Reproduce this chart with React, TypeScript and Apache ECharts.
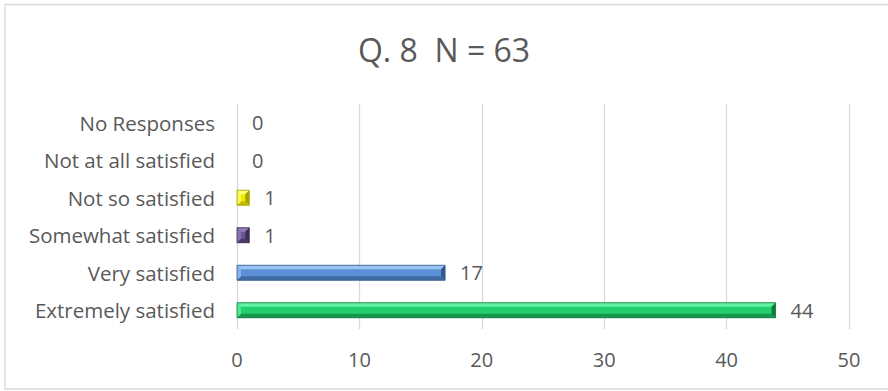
import React, { useEffect, useRef } from "react";
import * as echarts from "echarts";

// Survey responses, listed bottom-to-top as drawn on the category axis
const categories = [
  "Extremely satisfied",
  "Very satisfied",
  "Somewhat satisfied",
  "Not so satisfied",
  "Not at all satisfied",
  "No Responses",
];
const counts = [44, 17, 1, 1, 0, 0];
const titleText = "Q. 8  N = 63";
const axisMin = 0;
const axisMax = 50;
const axisStep = 10;

// Bevelled bar shading per category: face, top light, bottom shade, end cap
const shades = [
  { face: "#24cf6e", light: "#62f3a2", shade: "#179650", cap: "#107a3c" },
  { face: "#5b8fd6", light: "#9dc3f3", shade: "#3f6aa3", cap: "#33598c" },
  { face: "#6a5590", light: "#9380b6", shade: "#4b3b6a", cap: "#3c2f57" },
  { face: "#f0ec00", light: "#ffff80", shade: "#c2bd00", cap: "#a5a100" },
  { face: "#999999", light: "#cccccc", shade: "#777777", cap: "#666666" },
  { face: "#999999", light: "#cccccc", shade: "#777777", cap: "#666666" },
];

const FONT = "'Open Sans', sans-serif";
const TEXT = "#595959";
const BAR_H = 15;

export default function App() {
  const ref = useRef<HTMLDivElement>(null);

  useEffect(() => {
    if (!ref.current) return;
    const chart = echarts.init(ref.current, undefined, { renderer: "svg" });

    const renderBevel = (params: any, api: any) => {
      const v = api.value(0);
      const idx = api.value(1);
      const s = api.coord([0, idx]);
      const e = api.coord([v, idx]);
      const x0 = s[0];
      const x1 = e[0];
      if (x1 - x0 < 0.5) return null;
      const yt = s[1] - BAR_H / 2;
      const yb = yt + BAR_H;
      const b = Math.min(4, (x1 - x0) / 2, BAR_H / 2);
      const c = shades[params.dataIndex];
      return {
        type: "group",
        children: [
          {
            type: "polygon",
            shape: { points: [[x0, yt], [x1, yt], [x1 - b, yt + b], [x0 + b, yt + b]] },
            style: { fill: c.light },
          },
          {
            type: "polygon",
            shape: { points: [[x0, yb], [x1, yb], [x1 - b, yb - b], [x0 + b, yb - b]] },
            style: { fill: c.shade },
          },
          {
            type: "polygon",
            shape: { points: [[x1, yt], [x1, yb], [x1 - b, yb - b], [x1 - b, yt + b]] },
            style: { fill: c.cap },
          },
          {
            type: "polygon",
            shape: { points: [[x0, yt], [x0, yb], [x0 + b, yb - b], [x0 + b, yt + b]] },
            style: { fill: c.light, opacity: 0.7 },
          },
          {
            type: "rect",
            shape: { x: x0, y: yt, width: x1 - x0, height: BAR_H },
            style: { fill: "none", stroke: c.cap, lineWidth: 0.8 },
          },
        ],
      };
    };

    chart.setOption({
      animation: false,
      backgroundColor: "#ffffff",
      title: {
        text: titleText,
        left: "center",
        top: 28,
        textStyle: { fontFamily: FONT, fontSize: 32, fontWeight: "normal", color: TEXT },
      },
      graphic: [
        {
          type: "rect",
          shape: { x: 5, y: 4.5, width: 900, height: 384.5 },
          style: { fill: "none", stroke: "#d9d9d9", lineWidth: 1.3 },
          silent: true,
        },
      ],
      grid: { left: 237, right: 39, top: 104, bottom: 62, containLabel: false },
      xAxis: {
        type: "value",
        min: axisMin,
        max: axisMax,
        interval: axisStep,
        axisLine: { show: false },
        axisTick: { show: false },
        splitLine: { show: true, lineStyle: { color: "#d9d9d9", width: 1.3 } },
        axisLabel: { fontFamily: FONT, fontSize: 20, color: TEXT, margin: 20 },
      },
      yAxis: {
        type: "category",
        data: categories,
        axisLine: { show: false },
        axisTick: { show: false },
        axisLabel: { fontFamily: FONT, fontSize: 20.5, color: TEXT, margin: 22 },
      },
      series: [
        {
          type: "bar",
          barWidth: BAR_H,
          data: counts.map((v, i) => ({ value: v, itemStyle: { color: shades[i].face } })),
          label: {
            show: true,
            position: "right",
            distance: 15,
            fontFamily: FONT,
            fontSize: 20,
            color: TEXT,
          },
        },
        {
          type: "custom",
          silent: true,
          z: 5,
          renderItem: renderBevel,
          encode: { x: 0, y: 1 },
          data: counts.map((v, i) => [v, i]),
        },
      ],
    });

    return () => chart.dispose();
  }, []);

  return (
    <div
      ref={ref}
      style={{ position: "fixed", left: 0, top: 0, width: 888, height: 391 }}
    />
  );
}
